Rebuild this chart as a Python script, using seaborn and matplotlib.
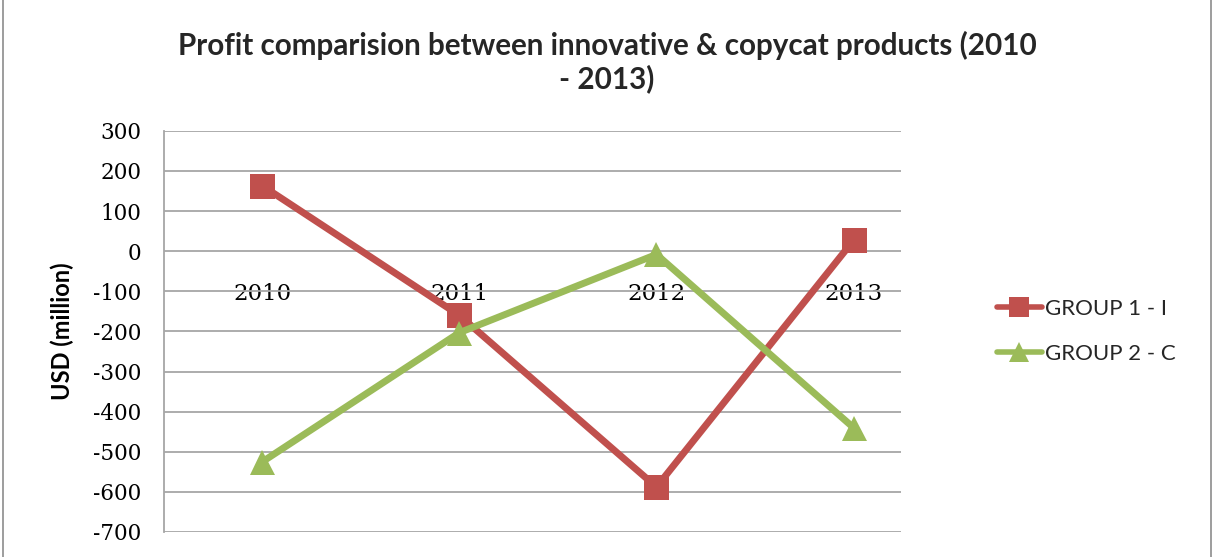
import matplotlib
matplotlib.use("Agg")
import matplotlib.pyplot as plt
import seaborn as sns
import pandas as pd
from matplotlib.patches import Rectangle

years = ["2010", "2011", "2012", "2013"]
group1 = [163, -160, -588, 27]
group2 = [-525, -203, -8, -440]
series_names = ["GROUP 1 - I", "GROUP 2 - C"]
y_ticks = [300, 200, 100, 0, -100, -200, -300, -400, -500, -600, -700]

df = pd.DataFrame({
    "idx": list(range(len(years))) * 2,
    "value": group1 + group2,
    "series": [series_names[0]] * len(years) + [series_names[1]] * len(years),
})

sns.set_theme(style="white")
plt.rcParams["font.family"] = ["DejaVu Serif"]

fig = plt.figure(figsize=(12.14, 5.57), dpi=100)
ax = fig.add_axes([0.135, 0.045, 0.607, 0.72])

palette = {series_names[0]: "#C0504D", series_names[1]: "#9BBB59"}
sns.lineplot(data=df, x="idx", y="value", hue="series", style="series",
             markers={series_names[0]: "s", series_names[1]: "^"},
             dashes=False, palette=palette, linewidth=5, markersize=18,
             markeredgewidth=0, ax=ax, legend=False, sort=False)

ax.set_ylim(-700, 300)
ax.set_xlim(-0.5, 3.24)
ax.grid(axis="y", color="#A6A6A6", linewidth=1.3)
ax.grid(axis="x", visible=False)
ax.set_axisbelow(True)

ax.spines["bottom"].set_position(("data", 0))
ax.spines["bottom"].set_visible(False)
ax.tick_params(axis="x", length=0, pad=23, labelcolor="black")
ax.tick_params(axis="y", length=0, pad=16, labelcolor="black")
ax.set_xticks(range(len(years)), labels=years, fontsize=16.5, fontfamily="DejaVu Serif")
ax.set_yticks(y_ticks, labels=[str(v) for v in y_ticks], fontsize=15.5, fontfamily="DejaVu Serif")
for s in ["top", "right"]:
    ax.spines[s].set_visible(False)
ax.spines["left"].set_color("#A6A6A6")
ax.spines["left"].set_linewidth(1.3)

ax.set_xlabel("")
ax.set_ylabel("USD (million)", fontsize=17, fontweight="bold", fontfamily="Lato",
              labelpad=14, color="black")

fig.text(0.5, 0.918, "Profit comparision between innovative & copycat products (2010",
         ha="center", va="center", fontsize=21.3, fontweight="bold", fontfamily="Lato")
fig.text(0.5, 0.858, "- 2013)", ha="center", va="center", fontsize=21.3,
         fontweight="bold", fontfamily="Lato")

handles = [
    plt.Line2D([], [], color="#C0504D", marker="s", linewidth=4, markersize=14, markeredgewidth=0),
    plt.Line2D([], [], color="#9BBB59", marker="^", linewidth=4, markersize=14, markeredgewidth=0),
]
fig.legend(handles, series_names, loc="center left", bbox_to_anchor=(0.805, 0.405),
           frameon=False, prop={"family": "Lato", "size": 16}, handlelength=2.0,
           handletextpad=0.15, labelspacing=1.15)

fig.patches.append(Rectangle((0.0025, -0.01), 0.995, 1.02, transform=fig.transFigure,
                             fill=False, edgecolor="#8C8C8C", linewidth=1.2))

fig.savefig("out.png", dpi=100)
